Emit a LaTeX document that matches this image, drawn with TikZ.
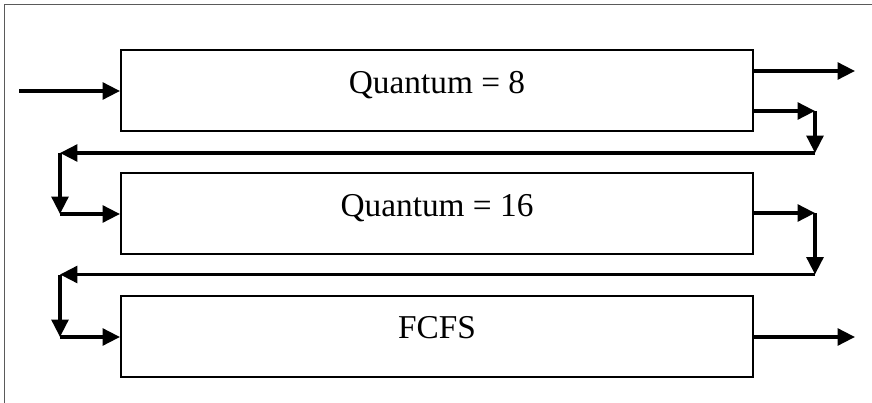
\documentclass[tikz,border=0pt]{standalone}
\usepackage{fontspec}
\setmainfont{Liberation Serif}
\usepackage{tikz}
\usetikzlibrary{arrows.meta,positioning}
\definecolor{FrameGray}{HTML}{5A5A5A}

\begin{document}
\begin{tikzpicture}[x=0.75pt, y=-0.75pt,
    font=\fontsize{25}{30}\selectfont,
    queue/.style={draw, line width=1.5pt, inner sep=0pt,
      minimum width=474pt, minimum height=60.75pt,
      text height=16.5pt, text depth=12.5pt},
    flow/.style={line width=2.6pt, -{Triangle[length=13pt, width=12.5pt]}}]
  \useasboundingbox (0,0) rectangle (872,403);
  % page frame (only top and left are visible)
  \draw[FrameGray, line width=0.75pt] (872,4.5) -- (4.5,4.5) -- (4.5,403);
  % the three queues
  \node[queue] (q1) at (437,91) {Quantum = 8};
  \node[queue] (q2) at (437,213.5) {Quantum = 16};
  \node[queue] (q3) at (437,336) {FCFS};
  % free ends and bends
  \coordinate (src) at (19,91);
  \coordinate (q1out) at (855,71);
  \coordinate (q1turn) at (815,111);
  \coordinate (q1back) at (815,153);
  \coordinate (q2drop) at (60,153);
  \coordinate (q2in) at (60,214);
  \coordinate (q2turn) at (815,213);
  \coordinate (q2back) at (815,274.5);
  \coordinate (q3drop) at (60,274.5);
  \coordinate (q3in) at (60,337);
  \coordinate (q3out) at (855,337);
  % arrivals
  \draw[flow] (src) -- (q1.west);
  % first queue
  \draw[flow] (q1.east |- q1out) -- (q1out);
  \draw[flow] (q1.east |- q1turn) -- (q1turn);
  \draw[flow] (q1turn) -- (q1back);
  \draw[flow] (q1back) -- (q2drop);
  \draw[flow] (q2drop) -- (q2in);
  \draw[flow] (q2in) -- (q2in -| q2.west);
  % second queue
  \draw[flow] (q2.east |- q2turn) -- (q2turn);
  \draw[flow] (q2turn) -- (q2back);
  \draw[flow] (q2back) -- (q3drop);
  \draw[flow] (q3drop) -- (q3in);
  \draw[flow] (q3in) -- (q3in -| q3.west);
  % last queue
  \draw[flow] (q3.east |- q3out) -- (q3out);
\end{tikzpicture}
\end{document}
